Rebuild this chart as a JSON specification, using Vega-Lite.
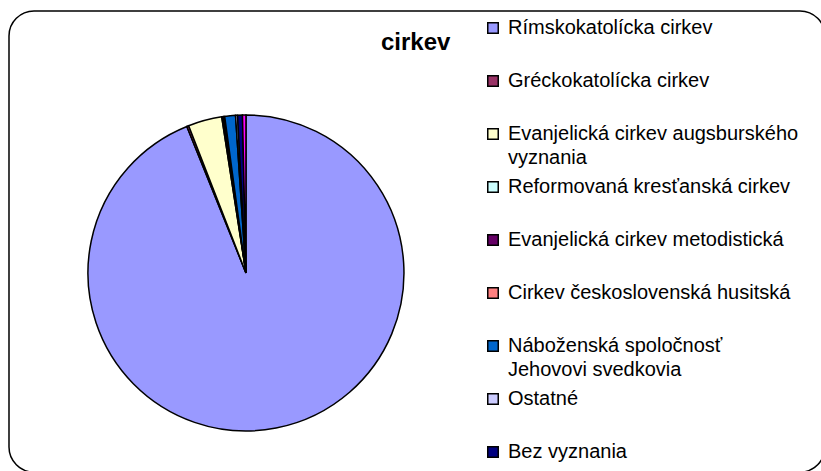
{
  "$schema": "https://vega.github.io/schema/vega-lite/v6.json",
  "width": 816,
  "height": 461,
  "autosize": "none",
  "padding": {"left": 9, "top": 11, "right": 0, "bottom": 0},
  "background": "white",
  "config": {
    "view": {"stroke": "black", "strokeWidth": 1.5, "cornerRadius": 25},
    "font": "Liberation Sans",
    "style": {"guide-label": {"lineHeight": 24}}
  },
  "title": {
    "text": "cirkev",
    "anchor": "start",
    "frame": "group",
    "fontSize": 24,
    "fontWeight": "bold",
    "font": "Liberation Sans",
    "color": "black",
    "baseline": "alphabetic",
    "offset": 0,
    "dx": 372,
    "dy": 63
  },
  "data": {
    "values": [
      {"cirkev": "Rímskokatolícka cirkev", "podiel": 93.8, "poradie": 1},
      {"cirkev": "Gréckokatolícka cirkev", "podiel": 0.2, "poradie": 2},
      {"cirkev": "Evanjelická cirkev augsburského vyznania", "podiel": 3.45, "poradie": 3},
      {"cirkev": "Reformovaná kresťanská cirkev", "podiel": 0.1, "poradie": 4},
      {"cirkev": "Evanjelická cirkev metodistická", "podiel": 0.1, "poradie": 5},
      {"cirkev": "Cirkev československá husitská", "podiel": 0.1, "poradie": 6},
      {"cirkev": "Náboženská spoločnosť Jehovovi svedkovia", "podiel": 1.1, "poradie": 7},
      {"cirkev": "Ostatné", "podiel": 0.2, "poradie": 8},
      {"cirkev": "Bez vyznania", "podiel": 0.5, "poradie": 9},
      {"cirkev": "Nezistené", "podiel": 0.35, "poradie": 10}
    ]
  },
  "mark": {"type": "arc", "radius": 158, "stroke": "black", "strokeWidth": 1.5},
  "encoding": {
    "theta": {"field": "podiel", "type": "quantitative", "stack": true},
    "order": {"field": "poradie", "type": "quantitative"},
    "x": {"datum": 0.2904, "type": "quantitative", "scale": {"domain": [0, 1], "nice": false, "zero": false}, "axis": null},
    "y": {"datum": 0.5683, "type": "quantitative", "scale": {"domain": [0, 1], "nice": false, "zero": false, "reverse": true}, "axis": null},
    "color": {
      "field": "cirkev",
      "type": "nominal",
      "scale": {
        "domain": [
          "Rímskokatolícka cirkev",
          "Gréckokatolícka cirkev",
          "Evanjelická cirkev augsburského vyznania",
          "Reformovaná kresťanská cirkev",
          "Evanjelická cirkev metodistická",
          "Cirkev československá husitská",
          "Náboženská spoločnosť Jehovovi svedkovia",
          "Ostatné",
          "Bez vyznania",
          "Nezistené"
        ],
        "range": ["#9999FF", "#993366", "#FFFFCC", "#CCFFFF", "#660066", "#FF8080", "#0066CC", "#CCCCFF", "#000080", "#FF00FF"]
      },
      "legend": {
        "orient": "none",
        "legendX": 474,
        "legendY": 7,
        "title": null,
        "padding": 0,
        "values": [
          "Rímskokatolícka cirkev",
          "Gréckokatolícka cirkev",
          "Evanjelická cirkev augsburského vyznania",
          "Reformovaná kresťanská cirkev",
          "Evanjelická cirkev metodistická",
          "Cirkev československá husitská",
          "Náboženská spoločnosť Jehovovi svedkovia",
          "Ostatné",
          "Bez vyznania"
        ],
        "labelExpr": "datum.label == 'Evanjelická cirkev augsburského vyznania' ? ['Evanjelická cirkev augsburského', 'vyznania'] : datum.label == 'Náboženská spoločnosť Jehovovi svedkovia' ? ['Náboženská spoločnosť', 'Jehovovi svedkovia'] : datum.label",
        "labelFontSize": 20,
        "labelFont": "Liberation Sans",
        "labelColor": "black",
        "labelBaseline": "middle",
        "labelLimit": 400,
        "labelOffset": 5,
        "symbolType": "square",
        "symbolSize": 110,
        "symbolStrokeColor": "black",
        "symbolStrokeWidth": 1.5,
        "symbolOpacity": 1,
        "gridAlign": "all",
        "rowPadding": 9
      }
    }
  }
}
